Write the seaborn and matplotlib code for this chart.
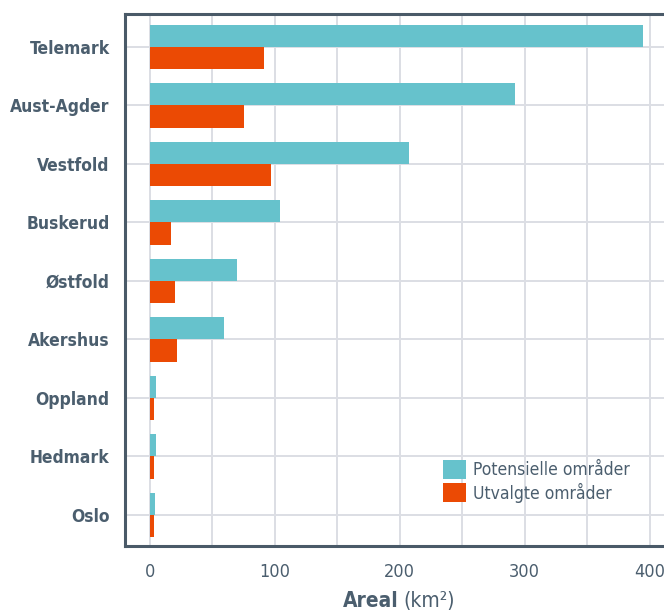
import pandas as pd
import numpy as np
import matplotlib
matplotlib.use("Agg")
import matplotlib.pyplot as plt
from matplotlib.ticker import MultipleLocator
import seaborn as sns

regions = ["Telemark", "Aust-Agder", "Vestfold", "Buskerud", "Østfold",
           "Akershus", "Oppland", "Hedmark", "Oslo"]
potensielle = [395, 292, 207, 104, 70, 59, 5, 5, 4]
utvalgte = [91, 75, 97, 17, 20, 22, 3, 3, 3]
series_names = ["Potensielle områder", "Utvalgte områder"]

df = pd.DataFrame({
    "Region": regions * 2,
    "Areal": potensielle + utvalgte,
    "Type": [series_names[0]] * len(regions) + [series_names[1]] * len(regions),
})

sns.set_style("white")
plt.rcParams["font.family"] = ["DejaVu Sans"]
plt.rcParams["font.stretch"] = "condensed"

text_col = "#4b5e6e"
spine_col = "#4a5a68"
grid_col = "#dcdee4"
colors = ["#66c2cc", "#eb4a04"]

fig = plt.figure(figsize=(6.64, 6.13), dpi=100)
ax = fig.add_axes([125 / 664, 1 - 546 / 613, 574.5 / 664, (546 - 14) / 613])

sns.barplot(data=df, y="Region", x="Areal", hue="Type", orient="h",
            palette=colors, width=0.76, saturation=1, linewidth=0,
            ax=ax, zorder=3)

ax.set_xlim(-20, 440)
ax.set_ylim(8.53, -0.56)
ax.xaxis.set_minor_locator(MultipleLocator(50))
ax.set_xticks([0, 100, 200, 300, 400])
ax.grid(True, which="both", axis="x", color=grid_col, lw=1.4, zorder=0)
ax.grid(True, which="major", axis="y", color=grid_col, lw=1.4, zorder=0)
ax.set_axisbelow(True)

for side in ["left", "bottom", "top"]:
    ax.spines[side].set_color(spine_col)
    ax.spines[side].set_linewidth(2.2)
ax.spines["right"].set_visible(False)

ax.tick_params(axis="y", which="major", length=5, width=1.5, color=spine_col,
               pad=6, labelsize=12.5, labelcolor=text_col)
ax.tick_params(axis="x", which="major", length=5, width=1.5, color=spine_col,
               pad=7, labelsize=13, labelcolor=text_col)
ax.tick_params(axis="x", which="minor", length=0)
for lab in ax.get_yticklabels():
    lab.set_fontweight("bold")

ax.set_ylabel("")
ax.set_xlabel("")
fig.text(399 / 664, 1 - 601 / 613, "Areal", ha="right", va="center",
         fontsize=15, fontweight="bold", color=text_col)
fig.text(403 / 664, 1 - 601 / 613, "(km²)", ha="left", va="center",
         fontsize=15, color=text_col)

leg = ax.legend(loc="upper left", bbox_to_anchor=(436 / 664, 1 - 453 / 613),
                bbox_transform=fig.transFigure, frameon=False, fontsize=12.5,
                handlelength=1.3, handleheight=1.3, handletextpad=0.45,
                labelspacing=0.2, borderaxespad=0)
for t in leg.get_texts():
    t.set_color(text_col)

fig.savefig("out.png", dpi=100)
